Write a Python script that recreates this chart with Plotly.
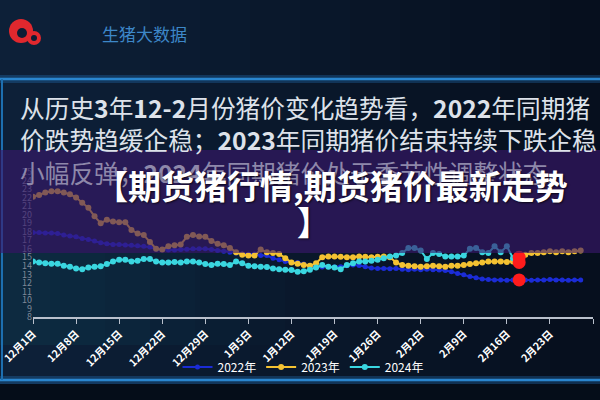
import plotly.graph_objects as go

# ---------------- data ----------------
tick_labels = ["12月1日", "12月8日", "12月15日", "12月22日", "12月29日", "1月5日",
               "1月12日", "1月19日", "1月26日", "2月2日", "2月9日", "2月16日", "2月23日"]
series_names = ["2022年", "2023年", "2024年"]

y2022 = [17.9, 17.9, 17.85, 17.85, 17.8, 17.6, 17.5, 17.4, 17.2, 17.1,
         16.9, 16.7, 16.6, 16.5, 16.5, 16.45, 16.4, 16.35, 16.3, 16.2,
         15.95, 15.9, 15.85, 15.85, 15.9, 15.95, 16.0, 16.0, 16.0, 15.9,
         15.8, 15.7, 15.6, 15.5, 15.4, 15.35, 15.4, 15.2, 15.2, 14.9,
         14.7, 14.5, 14.4, 14.4, 14.2, 14.0, 13.85, 13.85, 13.9, 13.85,
         13.9, 14.0, 14.1, 14.05, 13.9, 13.75, 13.7, 13.7, 13.65, 13.7,
         13.6, 13.55, 13.6, 13.55, 13.6, 13.55, 13.5, 13.45, 13.3, 13.1,
         12.95, 12.75, 12.6, 12.45, 12.4, 12.35, 12.35, 12.3, 12.35, 12.35,
         12.35, 12.3, 12.35, 12.35, 12.4, 12.35, 12.35, 12.3, 12.35, 12.35]

y2023 = [22.1, 22.3, 22.6, 22.75, 22.75, 22.6, 22.4, 22.0, 21.4, 20.8,
         19.8, 19.0, 19.4, 19.2, 19.1, 19.1, 18.2, 17.8, 17.6, 16.8,
         16.0, 15.9, 16.3, 16.4, 16.5, 17.4, 17.6, 17.45, 17.4, 16.9,
         16.6, 16.4, 16.1, 15.6, 15.3, 15.2, 15.2, 15.9, 15.6, 15.5,
         15.4, 14.9, 14.4, 14.25, 14.1, 14.0, 14.3, 15.0, 15.1, 15.1,
         15.05, 15.0, 15.0, 15.1, 15.05, 15.0, 15.05, 15.1, 15.0, 14.4,
         14.1, 14.0, 13.95, 13.9, 13.95, 14.0, 13.95, 13.9, 14.0, 14.0,
         14.1, 14.2, 14.3, 14.4, 14.5, 14.5, 14.5, 14.45, 14.5, 14.4,
         15.3, 15.5, 15.5, 15.6, 15.7, 15.6, 15.7, 15.6, 15.7, 15.8]

y2024 = [14.5, 14.4, 14.3, 14.25, 14.25, 14.0, 13.9, 13.7, 13.6, 13.8,
         13.9, 13.95, 14.2, 14.5, 14.7, 14.7, 14.5, 14.6, 14.8, 14.8,
         14.5, 14.4, 14.4, 14.45, 14.4, 14.5, 14.5, 14.4, 14.2, 14.1,
         14.25, 14.2, 14.1, 14.5, 14.3, 14.0, 13.95, 13.9, 13.85, 13.7,
         13.6, 13.55, 13.5, 13.3, 13.35, 13.55, 13.8, 14.1, 13.9, 13.8,
         13.6, 14.1, 14.3, 14.5, 14.5, 14.6, 14.7, 14.9, 15.1, 15.2,
         15.5, 16.1, 16.1, 15.8, 14.8, 15.5, 15.4, 15.1, 15.1, 15.1,
         15.2, 16.0, 16.1, 15.6, 15.5, 16.3, 15.6, 16.3, 14.9, 15.0]

highlight_index = 79  # latest 2024 day, marked in red

header_text = "生猪大数据"
para_lines = ["从历史<b>3</b>年<b>12-2</b>月份猪价变化趋势看，<b>2022</b>年同期猪",
              "价跌势趋缓企稳；<b>2023</b>年同期猪价结束持续下跌企稳",
              "小幅反弹；<b>2024</b>年同期猪价处于季节性调整状态。"]
banner_lines = ["【期货猪行情,期货猪价最新走势", "】"]

# ---------------- layout helpers ----------------
W, H = 600, 400
L, R, T, B = 33, 7, 172, 83
PW, PH = W - L - R, H - T - B
FONT = "Noto Sans CJK SC, Noto Sans, sans-serif"


def px(x):
    return (x - L) / PW


def py(y):
    return (H - B - y) / PH


fig = go.Figure()

colors = ["#1b2cd6", "#f4c232", "#3ad6e0"]
for name, ys, c, ms in zip(series_names, [y2022, y2023, y2024], colors, [5, 6, 6]):
    fig.add_trace(go.Scatter(
        x=list(range(len(ys))), y=ys, name=name, mode="lines+markers",
        line=dict(color=c, width=2), marker=dict(color=c, size=ms)))

fig.add_trace(go.Scatter(
    x=[highlight_index] * 3,
    y=[y2024[highlight_index], y2023[highlight_index], y2022[highlight_index]],
    mode="markers", marker=dict(color="#ff1c1c", size=13), showlegend=False))

shapes = []
# background gradient strips
n = 12
c0, c1 = (13, 32, 56), (6, 15, 30)
for i in range(n):
    t = i / (n - 1)
    col = "rgb(%d,%d,%d)" % tuple(round(a + (b - a) * t) for a, b in zip(c0, c1))
    shapes.append(dict(type="rect", xref="paper", yref="paper", layer="below",
                       x0=px(i * W / n), x1=px((i + 1) * W / n + 1), y0=py(0), y1=py(H),
                       fillcolor=col, line=dict(width=0)))
# soft teal tint lower-left of panel
for i in range(6):
    shapes.append(dict(type="rect", xref="paper", yref="paper", layer="below",
                       x0=px(0), x1=px(60 + i * 45), y0=py(253), y1=py(345),
                       fillcolor="rgba(20,85,105,0.05)", line=dict(width=0)))
# bottom dark strip
shapes.append(dict(type="rect", xref="paper", yref="paper", layer="below",
                   x0=px(0), x1=px(W), y0=py(384), y1=py(H),
                   fillcolor="#050d19", line=dict(width=0)))
# glowing panel borders
for (x0, y0, x1, y1) in [(0, 79, W, 79), (0, 380, W, 380)]:
    shapes.append(dict(type="line", xref="paper", yref="paper", layer="below",
                       x0=px(x0), x1=px(x1), y0=py(y0), y1=py(y1),
                       line=dict(color="rgba(40,130,210,0.28)", width=8)))
    shapes.append(dict(type="line", xref="paper", yref="paper", layer="below",
                       x0=px(x0), x1=px(x1), y0=py(y0), y1=py(y1),
                       line=dict(color="#2a86cf", width=2.5)))
shapes.append(dict(type="line", xref="paper", yref="paper", layer="below",
                   x0=px(2), x1=px(2), y0=py(79), y1=py(380),
                   line=dict(color="#1d6fb0", width=2)))
# logo
for (cx, cy, r, col) in [(21, 31, 12, "#e0282e"), (34, 38, 7, "#e0282e"),
                         (22, 33, 5, "#0c1d35"), (34, 38, 3, "#0c1d35")]:
    shapes.append(dict(type="circle", xref="paper", yref="paper", layer="below",
                       x0=px(cx - r), x1=px(cx + r), y0=py(cy + r), y1=py(cy - r),
                       fillcolor=col, line=dict(width=0)))
# purple banner over chart
shapes.append(dict(type="rect", xref="paper", yref="paper", layer="above",
                   x0=px(0), x1=px(W), y0=py(253), y1=py(150),
                   fillcolor="rgba(58,25,108,0.62)", line=dict(width=0)))

annotations = [
    dict(text=header_text, x=px(100), y=py(33), xanchor="left", yanchor="middle",
         font=dict(size=17, color="#3d87c8", family=FONT)),
]
for txt, yy, col in zip(para_lines, [107, 139, 172], ["#dde2ea", "#dde2ea", "#8e88aa"]):
    annotations.append(dict(text=txt, x=px(18), y=py(yy), xanchor="left", yanchor="middle",
                            font=dict(size=24.7, color=col, family=FONT)))
annotations.append(dict(text="<b>" + banner_lines[0] + "</b>", x=px(331), y=py(185),
                        xanchor="center", yanchor="middle",
                        font=dict(size=33, color="white", family=FONT,
                                  shadow="1px 1px 2px rgba(0,0,0,0.7)")))
annotations.append(dict(text="<b>" + banner_lines[1] + "</b>", x=px(313), y=py(221),
                        xanchor="center", yanchor="middle",
                        font=dict(size=33, color="white", family=FONT,
                                  shadow="1px 1px 2px rgba(0,0,0,0.7)")))
for a in annotations:
    a.update(xref="paper", yref="paper", showarrow=False)

fig.update_layout(
    width=W, height=H, margin=dict(l=L, r=R, t=T, b=B, autoexpand=False),
    paper_bgcolor="#0a1930", plot_bgcolor="rgba(0,0,0,0)",
    font=dict(family=FONT),
    shapes=shapes, annotations=annotations,
    showlegend=True,
    legend=dict(orientation="h", x=px(303), y=py(367), xanchor="center", yanchor="middle",
                font=dict(color="white", size=12, family=FONT), bgcolor="rgba(0,0,0,0)",
                itemwidth=30, tracegroupgap=0),
    xaxis=dict(range=[0, 91], tickmode="array", automargin=False,
               tickvals=[7 * i for i in range(len(tick_labels))] + [91],
               ticktext=tick_labels + [""], tickangle=-45, ticklabeloverflow="allow",
               tickfont=dict(color="white", size=10.5, family=FONT, weight="bold"),
               showline=True, linecolor="#b9c0cc", linewidth=1.5,
               ticks="outside", ticklen=5, tickcolor="#b9c0cc",
               showgrid=False, zeroline=False, fixedrange=True),
    yaxis=dict(range=[8, 25], dtick=1, tick0=8, showgrid=False, zeroline=False,
               showline=False, automargin=False,
               tickfont=dict(color="#7f8898", size=9, family=FONT),
               fixedrange=True),
)

fig.write_html("out.html", config={"displayModeBar": False},
               post_script="document.body.style.margin='0';")
